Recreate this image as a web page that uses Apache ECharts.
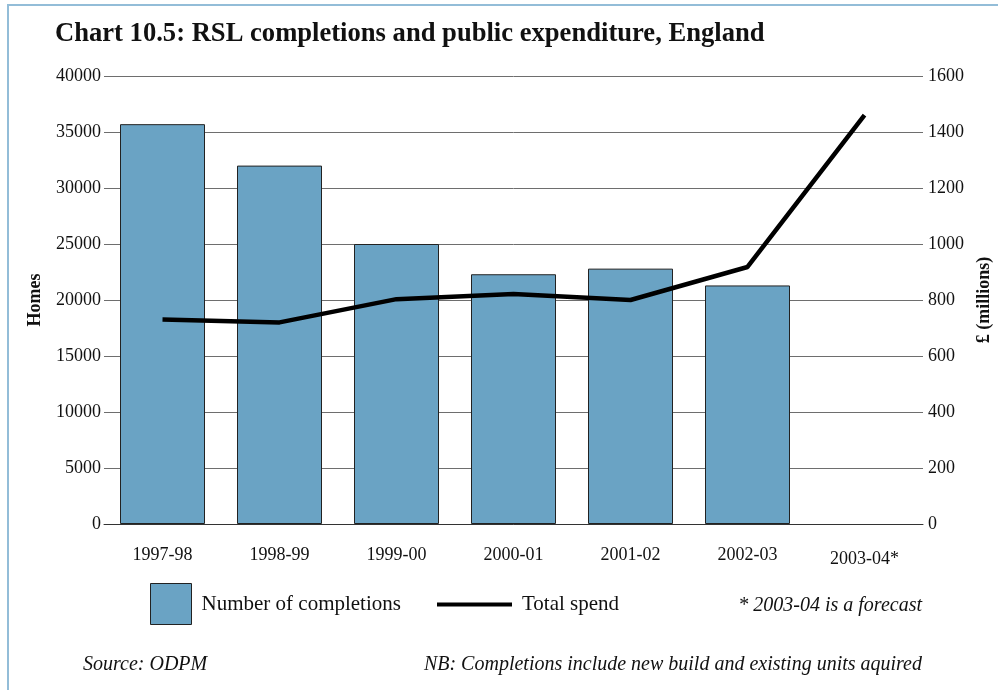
<!DOCTYPE html>
<html>
<head>
<meta charset="utf-8">
<script src="https://cdn.jsdelivr.net/npm/echarts@6/dist/echarts.min.js"></script>
<style>
  html, body { margin: 0; padding: 0; background: #fff; }
  #chart { width: 998px; height: 690px; }
</style>
</head>
<body>
<div id="chart"></div>
<script>
// financial years on the x axis
const years = ['1997-98', '1998-99', '1999-00', '2000-01', '2001-02', '2002-03', '2003-04*']
// RSL completions (homes), no figure for the forecast year
const completions = [35700, 32000, 25000, 22300, 22800, 21300, null]
// total public spend, £ millions
const totalSpend = [730, 720, 803, 821, 800, 918, 1460]

const serif = 'Liberation Serif'
const dom = document.getElementById('chart')
const chart = echarts.init(dom, null, { renderer: 'canvas' })

const option = {
  backgroundColor: '#fff',
  animation: false,
  textStyle: { fontFamily: serif, color: '#111' },
  title: {
    text: 'Chart 10.5: RSL completions and public expenditure, England',
    left: 50,
    top: 16,
    textStyle: { fontFamily: serif, fontSize: 26.6, fontWeight: 'bold', color: '#111' }
  },
  grid: { left: 104, right: 75, top: 76, bottom: 166, outerBoundsMode: 'none', containLabel: false },
  legend: [
    {
      data: ['Number of completions'],
      icon: 'rect',
      left: 150,
      top: 583,
      padding: 0,
      itemWidth: 41,
      itemHeight: 41,
      itemStyle: { borderColor: '#222', borderWidth: 1 },
      textStyle: { fontFamily: serif, fontSize: 21, color: '#111', padding: [7, 0, 0, 5] }
    },
    {
      data: ['Total spend'],
      left: 437,
      top: 594,
      padding: 0,
      icon: 'rect',
      itemWidth: 75,
      itemHeight: 4,
      textStyle: { fontFamily: serif, fontSize: 21, color: '#111', padding: [0, 0, 0, 5] }
    }
  ],
  xAxis: {
    type: 'category',
    data: years,
    axisLine: { lineStyle: { color: '#333', width: 1 } },
    axisTick: { show: false },
    axisLabel: {
      interval: 0,
      fontFamily: serif, fontSize: 18, color: '#111', margin: 22,
      formatter: v => v.indexOf('*') > 0 ? '{f|' + v + '}' : v,
      rich: { f: { fontFamily: serif, fontSize: 18, color: '#111', padding: [4, 0, 0, 0] } }
    }
  },
  yAxis: [
    {
      type: 'value',
      min: 0,
      max: 40000,
      interval: 5000,
      name: 'Homes',
      nameLocation: 'middle',
      nameRotate: 90,
      nameGap: 60,
      nameTextStyle: { fontFamily: serif, fontSize: 18, fontWeight: 'bold', color: '#111' },
      axisLine: { show: false },
      axisTick: { show: false },
      axisLabel: { fontFamily: serif, fontSize: 18, color: '#111', margin: 3, formatter: v => String(v) },
      splitLine: { lineStyle: { color: '#6e6e6e', width: 1 } }
    },
    {
      type: 'value',
      min: 0,
      max: 1600,
      interval: 200,
      name: '£ (millions)',
      nameLocation: 'middle',
      nameRotate: 90,
      nameGap: 52,
      nameTextStyle: { fontFamily: serif, fontSize: 18, fontWeight: 'bold', color: '#111' },
      axisLine: { show: false },
      axisTick: { show: false },
      axisLabel: { fontFamily: serif, fontSize: 18, color: '#111', margin: 5, formatter: v => String(v) },
      splitLine: { show: false }
    }
  ],
  series: [
    {
      name: 'Number of completions',
      type: 'bar',
      data: completions,
      barWidth: 85,
      itemStyle: { color: '#6aa3c4', borderColor: '#222', borderWidth: 1 }
    },
    {
      name: 'Total spend',
      type: 'line',
      yAxisIndex: 1,
      data: totalSpend,
      showSymbol: false,
      symbol: 'none',
      lineStyle: { color: '#000', width: 4.5 },
      itemStyle: { color: '#000' }
    }
  ],
  graphic: [
    {
      type: 'rect',
      shape: { x: 8, y: 5, width: 1000, height: 700 },
      style: { fill: 'none', stroke: '#93bdd8', lineWidth: 2 },
      silent: true
    },
    {
      type: 'text',
      right: 76,
      top: 596,
      style: { text: '* 2003-04 is a forecast', font: 'italic 20px "Liberation Serif"', fill: '#111' }
    },
    {
      type: 'text',
      left: 83,
      top: 655,
      style: { text: 'Source: ODPM', font: 'italic 20px "Liberation Serif"', fill: '#111' }
    },
    {
      type: 'text',
      right: 76,
      top: 655,
      style: { text: 'NB: Completions include new build and existing units aquired', font: 'italic 20px "Liberation Serif"', fill: '#111' }
    }
  ]
}

chart.setOption(option)
window.addEventListener('resize', () => chart.resize())
</script>
</body>
</html>
